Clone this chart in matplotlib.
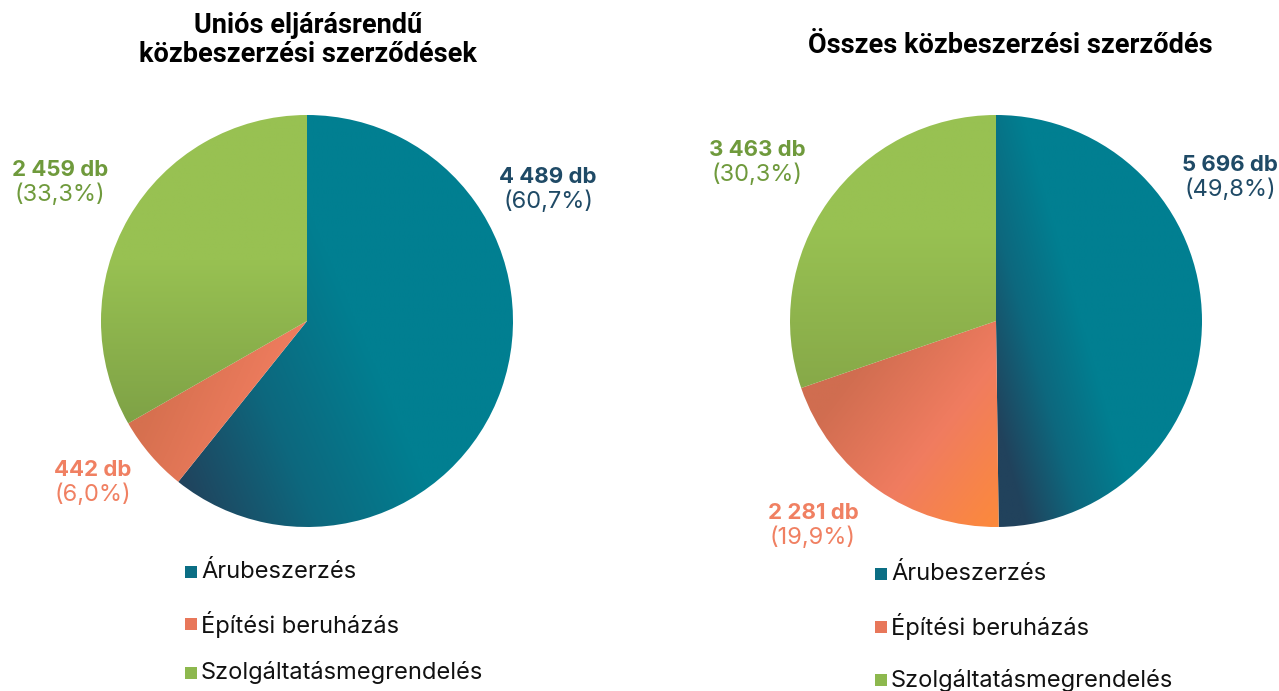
import matplotlib
matplotlib.use("Agg")
import matplotlib.pyplot as plt
import numpy as np
from matplotlib.colors import LinearSegmentedColormap

# adatok
categories = ["Árubeszerzés", "Építési beruházás", "Szolgáltatásmegrendelés"]
titles = ["Uniós eljárásrendű\nközbeszerzési szerződések", "Összes közbeszerzési szerződés"]
counts_unios = [4489, 442, 2459]
counts_osszes = [5696, 2281, 3463]
pct_unios = ["60,7%", "6,0%", "33,3%"]
pct_osszes = ["49,8%", "19,9%", "30,3%"]

W, H = 1279, 691
label_colors = ["#1f4a66", "#f08062", "#6f9a3c"]
legend_colors = ["#0b6e84", "#e8775a", "#8db84e"]


def fmt(n):
    return "{:,}".format(n).replace(",", " ") + " db"


def py(y):
    # pixel y (fentrol) -> tengely y
    return H - y


fig = plt.figure(figsize=(W / 100, H / 100), dpi=100)
ax = fig.add_axes([0, 0, 1, 1])


def gradient_fill(wedge, p0, p1, colors):
    cmap = LinearSegmentedColormap.from_list("g", colors)
    x0, y0, x1, y1 = wedge.get_path().get_extents(wedge.get_patch_transform()).extents
    xs = np.linspace(x0, x1, 200)
    ys = np.linspace(y0, y1, 200)
    X, Y = np.meshgrid(xs, ys)
    a = np.array([p0[0], py(p0[1])])
    b = np.array([p1[0], py(p1[1])])
    d = b - a
    t = ((X - a[0]) * d[0] + (Y - a[1]) * d[1]) / (d @ d)
    t = np.clip(t, 0, 1)
    im = ax.imshow(t, cmap=cmap, vmin=0, vmax=1, extent=(x0, x1, y0, y1),
                   origin="lower", interpolation="bilinear", zorder=2)
    im.set_clip_path(wedge)
    wedge.set_facecolor("none")


pies = [
    dict(vals=counts_unios, pct=pct_unios, cx=307, cy=321, r=206,
         grads=[((180, 490), (390, 400), ["#21425c", "#0d687e", "#017f91"]),
                ((140, 428), (235, 470), ["#d6704f", "#ee7c5e"]),
                ((0, 260), (0, 440), ["#98c152", "#7c9f45"])],
         labels=[(548, 177), (93, 470), (60, 170)],
         title=(308, 40), legend=(191, 201, [572, 624, 673])),
    dict(vals=counts_osszes, pct=pct_osszes, cx=996, cy=321, r=206,
         grads=[((990, 400), (1095, 370), ["#21425c", "#0d687e", "#017f91"]),
                ((830, 400), (1000, 530), ["#d06d50", "#f07c60", "#fd8a3a"]),
                ((0, 230), (0, 395), ["#98c152", "#86a848"])],
         labels=[(1230, 165), (813, 513), (757, 150)],
         title=(1010, 45), legend=(881, 891, [574, 627, 680])),
]

for i, p in enumerate(pies):
    wedges, _ = ax.pie(p["vals"], center=(p["cx"], py(p["cy"])), radius=p["r"],
                       startangle=90, counterclock=False,
                       wedgeprops=dict(linewidth=0))
    for w, (p0, p1, cols) in zip(wedges, p["grads"]):
        if p0[0] == 0:
            p0 = (p["cx"], p0[1])
            p1 = (p["cx"], p1[1])
        gradient_fill(w, p0, p1, cols)

    for j, (lx, ly) in enumerate(p["labels"]):
        ax.text(lx, py(ly), fmt(p["vals"][j]), ha="center", va="center",
                fontsize=16, fontweight="bold", family="Inter", color=label_colors[j])
        ax.text(lx, py(ly + 25), "(" + p["pct"][j] + ")", ha="center", va="center",
                fontsize=17, family="Inter", color=label_colors[j])

    tx, ty = p["title"]
    ax.text(tx, py(ty), titles[i], ha="center", va="center", fontsize=19.5,
            fontweight="bold", family="Roboto", color="black", linespacing=1.05)

    mx, txx, ys = p["legend"]
    for j, ly in enumerate(ys):
        ax.scatter([mx], [py(ly)], marker="s", s=70, color=legend_colors[j],
                   linewidths=0, zorder=3)
        ax.text(txx, py(ly), categories[j], ha="left", va="center", fontsize=17,
                family="Inter", color="#111111")

ax.set_xlim(0, W)
ax.set_ylim(0, H)
ax.set_aspect("auto")
ax.axis("off")

fig.savefig("out.png", dpi=100, facecolor="white")
